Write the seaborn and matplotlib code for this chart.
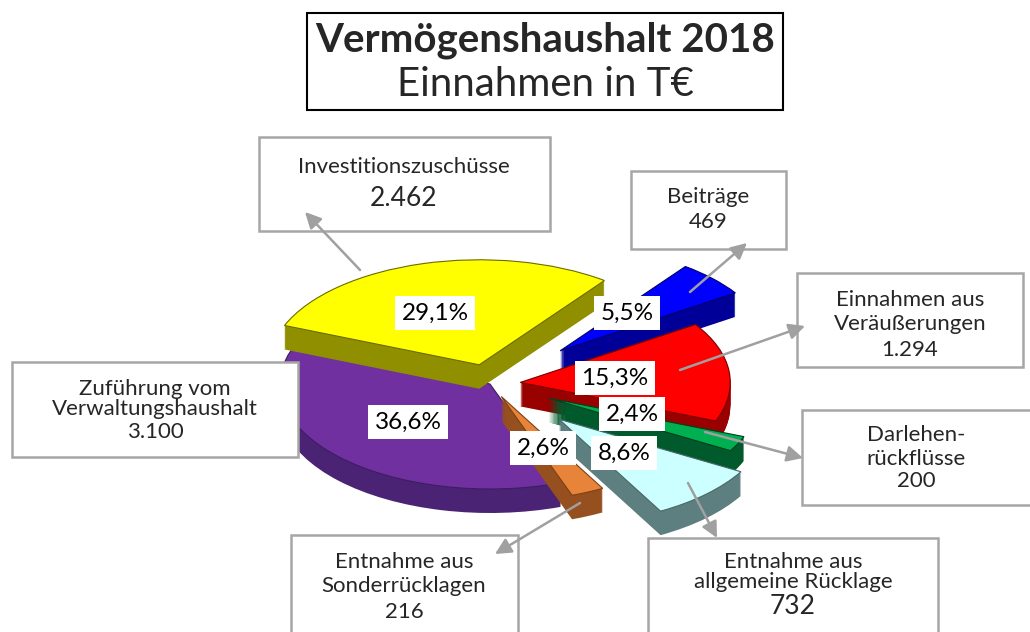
import seaborn as sns
import matplotlib.pyplot as plt
from matplotlib.patches import Rectangle

# data
categories = ["Zuführung vom\nVerwaltungshaushalt", "Investitionszuschüsse", "Beiträge",
              "Einnahmen aus\nVeräußerungen", "Darlehen-\nrückflüsse",
              "Entnahme aus\nallgemeine Rücklage", "Entnahme aus\nSonderrücklagen"]
values = [3100, 2462, 469, 1294, 200, 732, 216]
pct_labels = ["36,6%", "29,1%", "5,5%", "15,3%", "2,4%", "8,6%", "2,6%"]

# pie order (clockwise from the top-left)
pie_order = [1, 2, 3, 4, 5, 6, 0]
top_colors = ["#7030A0", "#FFFF00", "#0000FF", "#FF0000", "#00B050", "#CCFFFF", "#E8843A"]
side_colors = ["#4B2375", "#8F8F00", "#000099", "#990000", "#005A2B", "#5E7F80", "#96501F"]
edge_colors = ["#3E1C60", "#6B6B00", "#00006A", "#7A0000", "#00401F", "#4A6666", "#7A4015"]
explode = [0.0, 0.19, 0.46, 0.145, 0.31, 0.47, 0.13]
draw_rank = [0, 1, 2, 3, 4, 5, 6]

sns.set_theme(style="white")
plt.rcParams['font.family'] = ['Lato', 'DejaVu Sans']

W, H = 1030, 632
PX, FLAT = 210.0, 0.50
CX, CY = 490.0, 384.0


def to(x, y):
    return ((x - CX) / PX, (CY - y) / (PX * FLAT))


fig = plt.figure(figsize=(W / 100, H / 100), dpi=100)
ax = fig.add_axes([0, 0, 1, 1])

vals = [values[i] for i in pie_order]
n_layers = 24
depth = 24 / (PX * FLAT)
for k in range(n_layers + 1):
    top = k == n_layers
    cols = [(top_colors if top else side_colors)[i] for i in pie_order]
    wedges, _ = ax.pie(vals, explode=[explode[i] for i in pie_order], startangle=158,
                       counterclock=False, colors=cols,
                       center=(0, -depth * (n_layers - k) / n_layers),
                       wedgeprops=dict(linewidth=0.8 if top else 0,
                                       antialiased=True))
    for j, w in enumerate(wedges):
        i = pie_order[j]
        w.set_zorder(draw_rank[i] * 100 + k + 1)
        if top:
            w.set_edgecolor(edge_colors[i])

ax.set_aspect('auto')
ax.set_xlim(-CX / PX, (W - CX) / PX)
ax.set_ylim(-(H - CY) / (PX * FLAT), CY / (PX * FLAT))
ax.axis('off')

# percent labels
pct_pos = [(408, 422), (435, 313), (627, 313), (615, 378), (632, 414), (624, 453), (543, 448)]
for i, (x, y) in enumerate(pct_pos):
    ax.text(*to(x, y), pct_labels[i], ha='center', va='center', fontsize=17.5,
            color='black', zorder=2000,
            bbox=dict(boxstyle='square,pad=0.28', fc='white', ec='none'))

# label boxes
boxes = [(12, 362, 298, 457), (259, 137, 550, 231), (631, 171, 786, 249),
         (797, 273, 1023, 367), (802, 410, 1040, 505), (648, 538, 938, 640),
         (291, 535, 518, 640)]
name_pos = [(155, 399), (404, 167), (708, 197), (910, 312), (916, 447), (793, 572), (404, 574)]
name_ls = [1.05, 1.0, 1.0, 1.2, 1.2, 0.95, 1.2]
val_pos = [(155, 432), (404, 199), (708, 222), (910, 350), (916, 481), (793, 607), (404, 612)]
val_size = [16, 19, 16, 16, 16, 19, 16]
for i, (x0, y0, x1, y1) in enumerate(boxes):
    bx, by = to(x0, y1)
    bx1, by1 = to(x1, y0)
    ax.add_patch(Rectangle((bx, by), bx1 - bx, by1 - by, fill=True, fc='white',
                           ec='#A6A6A6', lw=1.8, zorder=1500, clip_on=False))
    ax.text(*to(*name_pos[i]), categories[i], ha='center', va='center', fontsize=16,
            linespacing=name_ls[i], zorder=1600)
    txt = f"{values[i]:,}".replace(",", ".")
    ax.text(*to(*val_pos[i]), txt, ha='center', va='center', fontsize=val_size[i],
            zorder=1600)

# arrows (tail in slice -> head at box)
arrows = [None, ((360, 270), (305, 212)), ((690, 292), (747, 243)),
          ((680, 370), (805, 326)), ((705, 432), (803, 458)),
          ((688, 483), (717, 538)), ((580, 503), (495, 554))]
for a in arrows:
    if a is None:
        continue
    tail, head = a
    ax.annotate('', xy=to(*head), xytext=to(*tail), zorder=1700,
                arrowprops=dict(arrowstyle='-|>', color='#A0A0A0', lw=1.8,
                                mutation_scale=24, shrinkA=0, shrinkB=0))

# title box
tx0, ty0 = to(307, 110)
tx1, ty1 = to(783, 13)
ax.add_patch(Rectangle((tx0, ty0), tx1 - tx0, ty1 - ty0, fc='white', ec='black',
                       lw=1.5, zorder=1500))
ax.text(*to(545, 40), "Vermögenshaushalt 2018", ha='center', va='center',
        fontsize=29, fontweight='bold', zorder=1600)
ax.text(*to(545, 84), "Einnahmen in T€", ha='center', va='center',
        fontsize=29, zorder=1600)

fig.savefig('out.png', dpi=100)
